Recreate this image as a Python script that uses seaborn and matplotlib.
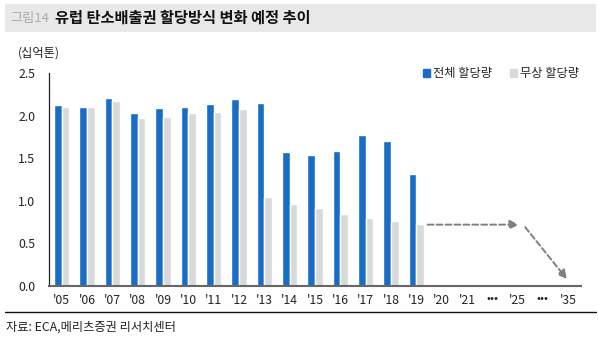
import matplotlib
matplotlib.use("Agg")
import matplotlib.pyplot as plt
from matplotlib.patches import Rectangle
from matplotlib.lines import Line2D
import seaborn as sns
import pandas as pd
import numpy as np

sns.set_style("white")
plt.rcParams['font.family'] = ['Noto Sans CJK KR', 'DejaVu Sans']

# Categories (years, with gaps marked by dots)
years = ["'05", "'06", "'07", "'08", "'09", "'10", "'11", "'12", "'13", "'14",
         "'15", "'16", "'17", "'18", "'19", "'20", "'21", "•••", "'25", "•••", "'35"]
cat_keys = [f"c{i}" for i in range(len(years))]

# Allowances, billion tonnes (2005-2019)
total_alloc = [2.12, 2.10, 2.21, 2.03, 2.09, 2.10, 2.14, 2.19, 2.15,
               1.57, 1.54, 1.58, 1.77, 1.70, 1.32]
free_alloc = [2.10, 2.10, 2.17, 1.97, 1.99, 2.03, 2.04, 2.08, 1.04,
              0.96, 0.91, 0.85, 0.80, 0.76, 0.73]

series_names = ["전체 할당량", "무상 할당량"]
colors = ["#1A6DC6", "#D9D9D9"]

rows = []
for i, v in enumerate(total_alloc):
    rows.append({"cat": cat_keys[i], "series": series_names[0], "value": v})
for i, v in enumerate(free_alloc):
    rows.append({"cat": cat_keys[i], "series": series_names[1], "value": v})
df = pd.DataFrame(rows)

fig = plt.figure(figsize=(5.99, 3.40), dpi=100)
ax = fig.add_axes([0.0818, 0.159, 0.888, 0.626])

sns.barplot(data=df, x="cat", y="value", hue="series", order=cat_keys,
            hue_order=series_names, palette=colors, width=0.6,
            saturation=1, ax=ax, legend=False, errorbar=None)

ax.set_xlim(-0.5, len(years) - 0.5)
ax.set_ylim(0, 2.5)
ax.set_yticks([0, 0.5, 1.0, 1.5, 2.0, 2.5])
ax.set_yticklabels(["0.0", "0.5", "1.0", "1.5", "2.0", "2.5"], fontsize=8.8, color="#222222")
ax.set_xticks(range(len(years)))
ax.set_xticklabels(years, fontsize=8.8, color="#222222")
for lbl in ax.get_xticklabels():
    if lbl.get_text() == "•••":
        lbl.set_fontsize(7.5)
        lbl.set_fontweight("bold")
ax.set_xticks(np.arange(-0.5, len(years) + 0.5, 1), minor=True)
ax.tick_params(axis="x", which="major", length=0, pad=6)
ax.tick_params(axis="x", which="minor", length=4, width=0.9, color="#555555", direction="out")
ax.tick_params(axis="y", length=4, width=0.9, color="#222222", direction="out", pad=6)
ax.set_xlabel("")
ax.set_ylabel("")
for side in ["top", "right"]:
    ax.spines[side].set_visible(False)
ax.spines["left"].set_color("#222222")
ax.spines["left"].set_linewidth(0.9)
ax.spines["bottom"].set_color("#666666")
ax.spines["bottom"].set_linewidth(1.5)

# Projected path of free allocation
arrow_kw = dict(arrowstyle="-|>", color="#808080", linestyle=(0, (3, 1.6)),
                linewidth=1.4, mutation_scale=13, shrinkA=0, shrinkB=0)
ax.annotate("", xy=(18.05, 0.72), xytext=(14.45, 0.72),
            arrowprops=dict(**arrow_kw))
ax.annotate("", xy=(19.95, 0.08), xytext=(18.3, 0.69),
            arrowprops=dict(**arrow_kw))

# Legend
handles = [Rectangle((0, 0), 1, 1, color=c) for c in colors]
ax.legend(handles, series_names, loc="upper right", bbox_to_anchor=(1.005, 1.05),
          ncol=2, frameon=False, fontsize=8.8, handlelength=0.6, handleheight=0.6,
          handletextpad=0.2, columnspacing=1.5, borderaxespad=0)

# Unit label
fig.text(0.030, 0.845, "(십억톤)", fontsize=8.8, color="#222222", va="center", ha="left")

# Title band
fig.patches.append(Rectangle((0.008, 0.906), 0.987, 0.082, transform=fig.transFigure,
                             facecolor="#E8E8E8", edgecolor="none", zorder=0))
fig.text(0.017, 0.947, "그림14", fontsize=9.5, color="#ABABAB", va="center", ha="left")
fig.text(0.092, 0.947, "유럽 탄소배출권 할당방식 변화 예정 추이", fontsize=11,
         fontweight="bold", color="#111111", va="center", ha="left")

# Footer
fig.add_artist(Line2D([0.008, 0.995], [0.083, 0.083], transform=fig.transFigure,
                      color="#111111", linewidth=1.0))
fig.text(0.010, 0.038, "자료: ECA,메리츠증권 리서치센터", fontsize=8.8, color="#222222",
         va="center", ha="left")

fig.savefig("out.png", dpi=100)
